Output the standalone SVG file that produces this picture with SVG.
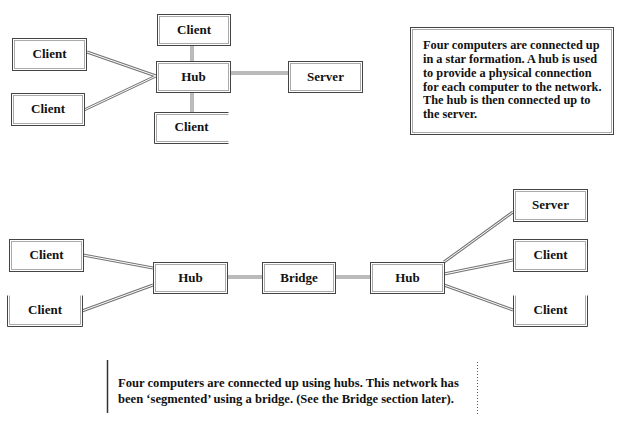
<svg xmlns="http://www.w3.org/2000/svg" width="619" height="427" viewBox="0 0 619 427">
<style>
.o{fill:#fff;stroke:#444;stroke-width:1}
.i{fill:none;stroke:#aaa;stroke-width:1}
.t{font-family:"Liberation Serif",serif;font-weight:bold;font-size:13px;fill:#111;text-anchor:middle}
.p{font-family:"Liberation Serif",serif;font-weight:bold;font-size:12.6px;fill:#111}
.q{font-size:12.3px}
.c1{stroke:#777;stroke-width:3;fill:none}
.c2{stroke:#fff;stroke-width:1;fill:none}
</style>
<g id="connectors">
<g class="c1">
<line x1="87" y1="52" x2="156" y2="76"/>
<line x1="84" y1="110" x2="156" y2="76"/>
<line x1="192" y1="45" x2="192" y2="61"/>
<line x1="192" y1="92" x2="192" y2="112"/>
<line x1="230" y1="73" x2="288" y2="73"/>
<line x1="83" y1="255" x2="153" y2="268"/>
<line x1="82" y1="311" x2="153" y2="285"/>
<line x1="227" y1="277" x2="262" y2="277"/>
<line x1="335" y1="277" x2="370" y2="277"/>
<line x1="444" y1="262" x2="513" y2="212"/>
<line x1="444" y1="274" x2="513" y2="260"/>
<line x1="444" y1="285" x2="513" y2="310"/>
</g>
<g class="c2">
<line x1="87" y1="52" x2="156" y2="76"/>
<line x1="84" y1="110" x2="156" y2="76"/>
<line x1="192" y1="45" x2="192" y2="61"/>
<line x1="192" y1="92" x2="192" y2="112"/>
<line x1="230" y1="73" x2="288" y2="73"/>
<line x1="83" y1="255" x2="153" y2="268"/>
<line x1="82" y1="311" x2="153" y2="285"/>
<line x1="227" y1="277" x2="262" y2="277"/>
<line x1="335" y1="277" x2="370" y2="277"/>
<line x1="444" y1="262" x2="513" y2="212"/>
<line x1="444" y1="274" x2="513" y2="260"/>
<line x1="444" y1="285" x2="513" y2="310"/>
</g>
</g>
<g id="client-tl"><rect class="o" x="12.5" y="38.5" width="74" height="32"/><rect class="i" x="14.5" y="40.5" width="70" height="28"/><text class="t" x="49.5" y="57.5">Client</text></g>
<g id="client-bl"><rect class="o" x="11.5" y="93.5" width="73" height="32"/><rect class="i" x="13.5" y="95.5" width="69" height="28"/><text class="t" x="48" y="112.5">Client</text></g>
<g id="client-top"><rect class="o" x="157.5" y="14.5" width="73" height="31"/><rect class="i" x="159.5" y="16.5" width="69" height="27"/><text class="t" x="194" y="33.5">Client</text></g>
<g id="hub-top"><rect class="o" x="156.5" y="61.5" width="74" height="31"/><rect class="i" x="158.5" y="63.5" width="70" height="27"/><text class="t" x="193.5" y="80.5">Hub</text></g>
<g id="server-top"><rect class="o" x="288.5" y="61.5" width="74" height="31"/><rect class="i" x="290.5" y="63.5" width="70" height="27"/><text class="t" x="325.5" y="80.5">Server</text></g>
<g id="client-bottom"><path class="o" d="M228.5 112.5H154.5V143.5H228.5"/><path class="i" d="M228.5 114.5H156.5V141.5H228.5"/><text class="t" x="191.5" y="130.5">Client</text></g>
<g id="note-top"><rect class="o" x="410.5" y="27.5" width="203" height="107"/><rect class="i" x="412.5" y="29.5" width="199" height="103"/>
<text class="p q" x="423" y="49">Four computers are connected up</text>
<text class="p q" x="423" y="63">in a star formation. A hub is used</text>
<text class="p q" x="423" y="77">to provide a physical connection</text>
<text class="p q" x="423" y="90.5">for each computer to the network.</text>
<text class="p q" x="423" y="104">The hub is then connected up to</text>
<text class="p q" x="423" y="118">the server.</text></g>
<g id="client-l1"><rect class="o" x="9.5" y="239.5" width="74" height="32"/><rect class="i" x="11.5" y="241.5" width="70" height="28"/><text class="t" x="46.5" y="258.5">Client</text></g>
<g id="client-l2"><path class="o" d="M7.5 295.5V326.5H82.5V295.5"/><path class="i" d="M9.5 295.5V324.5H80.5V295.5"/><text class="t" x="45" y="313.5">Client</text></g>
<g id="hub1"><rect class="o" x="153.5" y="262.5" width="74" height="31"/><rect class="i" x="155.5" y="264.5" width="70" height="27"/><text class="t" x="190.5" y="281.5">Hub</text></g>
<g id="bridge"><rect class="o" x="262.5" y="262.5" width="73" height="31"/><rect class="i" x="264.5" y="264.5" width="69" height="27"/><text class="t" x="299" y="281.5">Bridge</text></g>
<g id="hub2"><rect class="o" x="370.5" y="262.5" width="74" height="31"/><rect class="i" x="372.5" y="264.5" width="70" height="27"/><text class="t" x="407.5" y="281.5">Hub</text></g>
<g id="server-r"><rect class="o" x="513.5" y="189.5" width="74" height="32"/><rect class="i" x="515.5" y="191.5" width="70" height="28"/><text class="t" x="550.5" y="208.5">Server</text></g>
<g id="client-r1"><rect class="o" x="513.5" y="239.5" width="74" height="32"/><rect class="i" x="515.5" y="241.5" width="70" height="28"/><text class="t" x="550.5" y="258.5">Client</text></g>
<g id="client-r2"><path class="o" d="M513.5 295.5V326.5H587.5V295.5"/><path class="i" d="M515.5 295.5V324.5H585.5V295.5"/><text class="t" x="550.5" y="313.5">Client</text></g>
<g id="note-bottom">
<line x1="107.5" y1="360" x2="107.5" y2="413" stroke="#333" stroke-width="1.5"/>
<line x1="477.5" y1="362" x2="477.5" y2="415" stroke="#555" stroke-width="1" stroke-dasharray="1,2"/>
<text class="p" x="118" y="387">Four computers are connected up using hubs. This network has</text>
<text class="p" x="118" y="403">been ‘segmented’ using a bridge. (See the Bridge section later).</text>
</g>
</svg>
